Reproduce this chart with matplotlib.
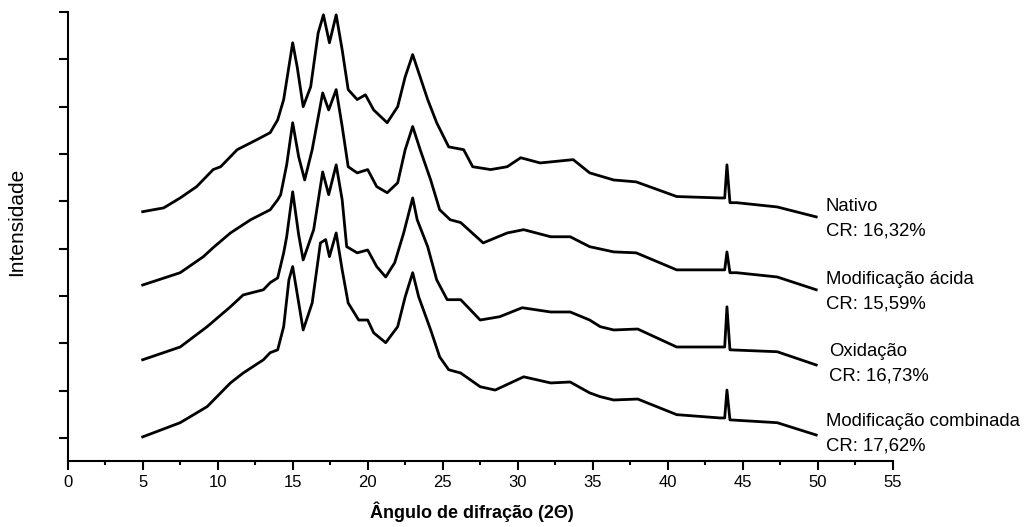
import matplotlib.pyplot as plt
from matplotlib.ticker import MultipleLocator

plt.rcParams['font.family'] = ['Liberation Sans', 'DejaVu Sans']

# values (intensity in tick units, traces already stacked)
nativo_x = [5.0, 6.4, 7.5, 8.6, 9.7, 10.2, 11.3, 12.6, 13.5, 14.0, 14.4, 15.0, 15.3, 15.7, 16.2,
            16.7, 17.05, 17.45, 17.9, 18.3, 18.7, 19.3, 19.85, 20.4, 21.3, 22.0, 22.5, 23.0, 23.4,
            24.0, 24.6, 25.4, 26.4, 27.0, 28.2, 29.3, 30.2, 31.5, 33.7, 34.8, 36.4, 37.9, 40.6,
            43.5, 43.8, 43.95, 44.15, 44.6, 47.3, 49.9]
nativo_y = [4.78, 4.86, 5.07, 5.31, 5.67, 5.73, 6.09, 6.30, 6.45, 6.72, 7.15, 8.35, 7.84, 7.00, 7.42,
            8.56, 8.94, 8.35, 8.94, 8.20, 7.36, 7.15, 7.25, 6.93, 6.66, 7.00, 7.63, 8.10, 7.72,
            7.15, 6.66, 6.15, 6.09, 5.73, 5.67, 5.73, 5.92, 5.81, 5.88, 5.60, 5.45, 5.41, 5.10,
            5.07, 5.07, 5.77, 4.97, 4.97, 4.88, 4.67]

acida_x = [5.0, 7.5, 9.05, 9.7, 10.85, 12.2, 13.5, 14.0, 14.2, 14.6, 15.0, 15.4, 15.8, 16.3, 17.0,
           17.4, 17.9, 18.3, 18.7, 19.3, 20.0, 20.6, 21.3, 22.0, 22.5, 23.0, 23.5, 24.2, 24.8,
           25.5, 26.2, 27.7, 29.3, 30.4, 32.2, 33.5, 34.8, 36.4, 37.9, 40.6, 43.5, 43.8, 43.95,
           44.15, 44.6, 47.3, 49.9]
acida_y = [3.23, 3.49, 3.83, 4.02, 4.33, 4.61, 4.82, 5.03, 5.14, 5.77, 6.66, 5.94, 5.45, 6.09, 7.29,
           6.93, 7.36, 6.58, 5.73, 5.60, 5.67, 5.31, 5.18, 5.39, 6.09, 6.58, 6.09, 5.45, 4.82,
           4.61, 4.55, 4.12, 4.33, 4.40, 4.25, 4.25, 4.04, 3.93, 3.91, 3.55, 3.55, 3.55, 3.93,
           3.49, 3.49, 3.40, 3.13]

oxid_x = [5.0, 7.5, 9.3, 10.85, 11.7, 13.05, 13.5, 14.0, 14.4, 14.6, 15.0, 15.4, 15.7, 16.4, 17.0,
          17.4, 17.9, 18.3, 18.6, 19.3, 20.0, 20.6, 21.2, 21.8, 22.4, 23.0, 23.3, 24.0, 24.6,
          25.3, 26.2, 27.5, 28.8, 30.3, 32.2, 33.5, 34.8, 35.5, 36.4, 38.0, 40.6, 43.5, 43.8,
          43.95, 44.15, 47.3, 49.9]
oxid_y = [1.65, 1.92, 2.35, 2.77, 3.02, 3.13, 3.28, 3.38, 3.91, 4.25, 5.20, 4.29, 3.76, 4.40, 5.62,
          5.14, 5.77, 5.03, 4.04, 3.91, 3.97, 3.62, 3.40, 3.70, 4.33, 5.07, 4.61, 4.04, 3.34,
          2.92, 2.92, 2.49, 2.56, 2.75, 2.66, 2.66, 2.49, 2.35, 2.28, 2.30, 1.92, 1.92, 1.92,
          2.77, 1.86, 1.82, 1.54]

comb_x = [5.0, 7.5, 9.3, 10.85, 11.7, 13.05, 13.5, 14.0, 14.4, 14.75, 15.0, 15.7, 16.3, 16.85,
          17.2, 17.45, 17.9, 18.3, 18.7, 19.4, 20.0, 20.4, 21.2, 22.0, 22.5, 23.0, 23.4, 24.2,
          24.8, 25.4, 26.2, 27.5, 28.5, 30.4, 32.2, 33.5, 34.8, 35.5, 36.4, 38.0, 40.6, 43.5,
          43.8, 43.95, 44.15, 47.3, 49.9]
comb_y = [0.02, 0.32, 0.66, 1.16, 1.37, 1.65, 1.80, 1.86, 2.35, 3.34, 3.62, 2.28, 2.85, 4.12,
          4.19, 3.83, 4.33, 3.55, 2.85, 2.49, 2.49, 2.22, 2.01, 2.35, 2.98, 3.49, 2.98, 2.28,
          1.71, 1.44, 1.37, 1.08, 1.01, 1.29, 1.16, 1.18, 0.95, 0.87, 0.80, 0.82, 0.49, 0.42,
          0.42, 1.01, 0.38, 0.32, 0.06]

amostras = ["Nativo", "Modificação ácida", "Oxidação", "Modificação combinada"]
cristalinidade = ["CR: 16,32%", "CR: 15,59%", "CR: 16,73%", "CR: 17,62%"]

fig = plt.figure(figsize=(10.30, 5.27), dpi=100)
ax = fig.add_axes([0.0657, 0.1252, 0.801, 0.852])

for xs, ys in [(nativo_x, nativo_y), (acida_x, acida_y), (oxid_x, oxid_y), (comb_x, comb_y)]:
    ax.plot(xs, ys, color='black', lw=2.0)

# sample names and crystallinity to the right of each pattern
label_x = [50.55, 50.55, 50.75, 50.55]
label_y = [4.88, 3.34, 1.82, 0.34]
for nome, cr, lx, ly in zip(amostras, cristalinidade, label_x, label_y):
    ax.text(lx, ly, nome, fontsize=13.3, va='center', ha='left', clip_on=False)
    ax.text(lx, ly - 0.51, cr, fontsize=13.3, va='center', ha='left', clip_on=False)

ax.set_xlim(0, 55)
ax.set_ylim(-0.49, 9.0)
ax.xaxis.set_major_locator(MultipleLocator(5))
ax.xaxis.set_minor_locator(MultipleLocator(2.5))
ax.yaxis.set_major_locator(MultipleLocator(1))
ax.set_yticklabels([])
ax.tick_params(axis='both', which='major', direction='out', length=6.5, width=1.5, labelsize=12)
ax.tick_params(axis='x', which='minor', direction='out', length=3.2, width=1.5)
ax.tick_params(axis='y', which='major', pad=2)

for s in ['top', 'right']:
    ax.spines[s].set_visible(False)
for s in ['left', 'bottom']:
    ax.spines[s].set_linewidth(1.5)

ax.set_xlabel("Ângulo de difração (2Θ)", fontsize=13, fontweight='bold')
ax.xaxis.set_label_coords(0.49, -0.09)
ax.set_ylabel("Intensidade", fontsize=15)
ax.yaxis.set_label_coords(-0.05, 0.532)

fig.savefig("out.png", dpi=100)
